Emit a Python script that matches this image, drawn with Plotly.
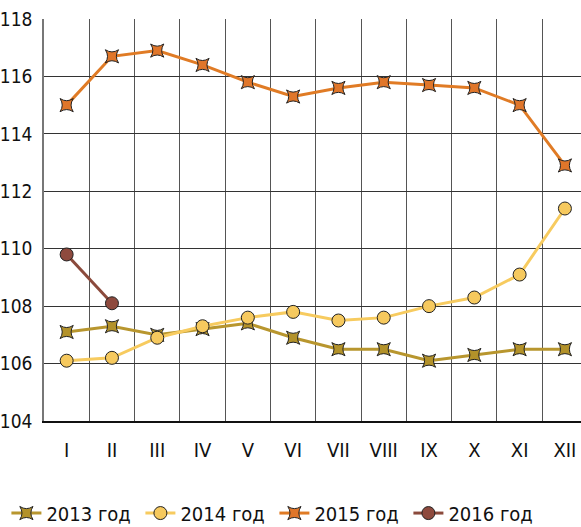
import plotly.graph_objects as go

months = ["I", "II", "III", "IV", "V", "VI", "VII", "VIII", "IX", "X", "XI", "XII"]
y2013 = [107.1, 107.3, 107.0, 107.2, 107.4, 106.9, 106.5, 106.5, 106.1, 106.3, 106.5, 106.5]
y2014 = [106.1, 106.2, 106.9, 107.3, 107.6, 107.8, 107.5, 107.6, 108.0, 108.3, 109.1, 111.4]
y2015 = [115.0, 116.7, 116.9, 116.4, 115.8, 115.3, 115.6, 115.8, 115.7, 115.6, 115.0, 112.9]
y2016 = [109.8, 108.1]
series_names = ["2013 год", "2014 год", "2015 год", "2016 год"]
y_ticks = [104, 106, 108, 110, 112, 114, 116, 118]

FONT = "DejaVu Sans Condensed, Liberation Sans Narrow, sans-serif"
xs = list(range(len(months)))

fig = go.Figure()
specs = [
    (y2013, "#B8962E", "#B3922A", "star-square", 12),
    (y2014, "#F7CB5F", "#F6C95E", "circle", 13),
    (y2015, "#E07B25", "#E0762A", "star-square", 12),
    (y2016, "#8B4A3C", "#8E4A3E", "circle", 13),
]
for (vals, lc, mc, sym, sz), name in zip(specs, series_names):
    fig.add_trace(go.Scatter(
        x=xs[:len(vals)], y=vals, name=name, mode="lines+markers",
        line=dict(color=lc, width=3),
        marker=dict(symbol=sym, size=sz, color=mc, line=dict(color="#222", width=1)),
        cliponaxis=False,
    ))

fig.update_layout(
    width=581, height=527,
    margin=dict(l=44, r=0, t=19, b=106, autoexpand=False),
    paper_bgcolor="white", plot_bgcolor="white",
    font=dict(family=FONT, size=20, color="#111"),
    showlegend=True,
    legend=dict(orientation="h", x=-0.07, xanchor="left", y=-0.229, yanchor="middle",
                entrywidth=89, entrywidthmode="pixels",
                font=dict(family=FONT, size=20, color="#111"),
                tracegroupgap=0, itemclick=False),
)
fig.update_xaxes(
    range=[-0.5, 11.355], tickmode="array", tickvals=xs, ticktext=months,
    showgrid=False, zeroline=False, automargin=False,
    showline=True, linecolor="#111", linewidth=1.5,
    ticks="", ticklabelstandoff=10,
    minor=dict(tickmode="linear", tick0=-0.5, dtick=1, showgrid=True,
               gridcolor="#555", gridwidth=1.3),
    tickfont=dict(family=FONT, size=20, color="#111"),
)
fig.update_yaxes(
    range=[104, 118], tickmode="array", tickvals=y_ticks,
    showgrid=True, gridcolor="#333", gridwidth=1.3, zeroline=False, automargin=False,
    showline=True, linecolor="#777", linewidth=1.5,
    ticks="", ticklabelstandoff=6,
    tickfont=dict(family=FONT, size=19, color="#111"),
)
fig.write_html("out.html", config={"displayModeBar": False},
               post_script="document.body.style.margin='0px';document.body.style.overflow='hidden';")
